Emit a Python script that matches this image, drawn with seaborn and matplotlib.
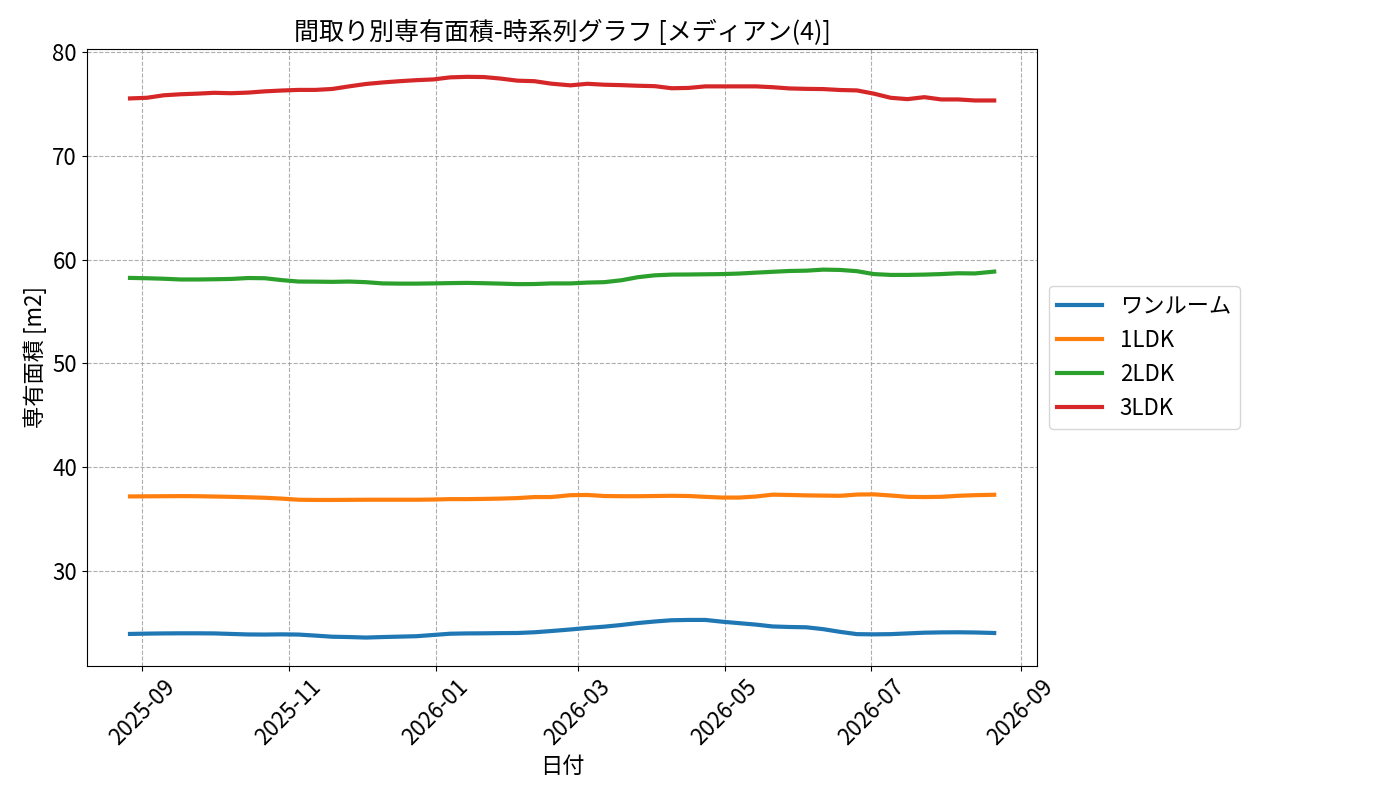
import pandas as pd
import numpy as np
import matplotlib.pyplot as plt
import matplotlib.dates as mdates
import seaborn as sns

plt.rcParams['font.family'] = ['Noto Sans CJK JP', 'DejaVu Sans']

# 集計日 (52回, ほぼ週次)
dates = pd.date_range('2025-08-27', '2026-08-21', periods=52).normalize()

one_room = [23.90, 23.93, 23.95, 23.96, 23.96, 23.95, 23.90, 23.85, 23.84, 23.86,
            23.84, 23.74, 23.63, 23.60, 23.55, 23.60, 23.64, 23.68, 23.80, 23.92,
            23.95, 23.96, 23.98, 23.99, 24.06, 24.18, 24.33, 24.48, 24.60, 24.76,
            24.95, 25.10, 25.22, 25.25, 25.25, 25.08, 24.94, 24.80, 24.62, 24.57,
            24.54, 24.36, 24.10, 23.88, 23.86, 23.88, 23.95, 24.02, 24.05, 24.06,
            24.04, 23.99]
ldk1 = [37.16, 37.17, 37.18, 37.19, 37.18, 37.15, 37.12, 37.08, 37.03, 36.95,
        36.84, 36.82, 36.82, 36.83, 36.84, 36.84, 36.84, 36.84, 36.86, 36.90,
        36.90, 36.92, 36.95, 37.00, 37.10, 37.10, 37.28, 37.30, 37.20, 37.18,
        37.18, 37.20, 37.22, 37.20, 37.12, 37.05, 37.05, 37.15, 37.33, 37.30,
        37.26, 37.24, 37.22, 37.34, 37.36, 37.25, 37.12, 37.10, 37.12, 37.22,
        37.28, 37.32]
ldk2 = [58.23, 58.20, 58.15, 58.08, 58.08, 58.10, 58.13, 58.22, 58.20, 58.02,
        57.88, 57.87, 57.85, 57.88, 57.82, 57.70, 57.68, 57.68, 57.70, 57.73,
        57.75, 57.72, 57.68, 57.63, 57.64, 57.70, 57.70, 57.78, 57.82, 58.00,
        58.30, 58.48, 58.55, 58.56, 58.58, 58.60, 58.65, 58.74, 58.82, 58.90,
        58.93, 59.03, 59.00, 58.88, 58.60, 58.52, 58.52, 58.55, 58.60, 58.68,
        58.66, 58.84]
ldk3 = [75.54, 75.60, 75.84, 75.94, 76.00, 76.08, 76.04, 76.10, 76.22, 76.30,
        76.36, 76.36, 76.45, 76.70, 76.93, 77.08, 77.20, 77.30, 77.37, 77.57,
        77.62, 77.60, 77.45, 77.25, 77.20, 76.96, 76.80, 76.95, 76.86, 76.82,
        76.76, 76.72, 76.52, 76.55, 76.70, 76.70, 76.70, 76.70, 76.62, 76.50,
        76.46, 76.44, 76.35, 76.31, 76.00, 75.60, 75.47, 75.66, 75.44, 75.44,
        75.34, 75.34]

layouts = ['ワンルーム', '1LDK', '2LDK', '3LDK']
series = [one_room, ldk1, ldk2, ldk3]

frames = []
for name, vals in zip(layouts, series):
    frames.append(pd.DataFrame({'日付': dates, '専有面積': vals, '間取り': name}))
df = pd.concat(frames, ignore_index=True)

fig, ax = plt.subplots(figsize=(14, 8), dpi=100)
sns.lineplot(data=df, x='日付', y='専有面積', hue='間取り', hue_order=layouts,
             palette=['#1f77b4', '#ff7f0e', '#2ca02c', '#d62728'],
             linewidth=3, ax=ax)

ax.set_title('間取り別専有面積-時系列グラフ [メディアン(4)]', fontsize=18)
ax.set_xlabel('日付', fontsize=16)
ax.set_ylabel('専有面積 [m2]', fontsize=16)
ax.xaxis.set_major_locator(mdates.MonthLocator(bymonth=[1, 3, 5, 7, 9, 11]))
ax.xaxis.set_major_formatter(mdates.DateFormatter('%Y-%m'))
ax.tick_params(axis='both', labelsize=16)
plt.setp(ax.get_xticklabels(), rotation=45)
ax.grid(True, linestyle='--', color='#999999', alpha=0.8)
ax.legend(loc='center left', bbox_to_anchor=(1.0, 0.5), fontsize=16)

plt.subplots_adjust(left=0.062, right=0.741, top=0.939, bottom=0.168)
plt.savefig('out.png')
